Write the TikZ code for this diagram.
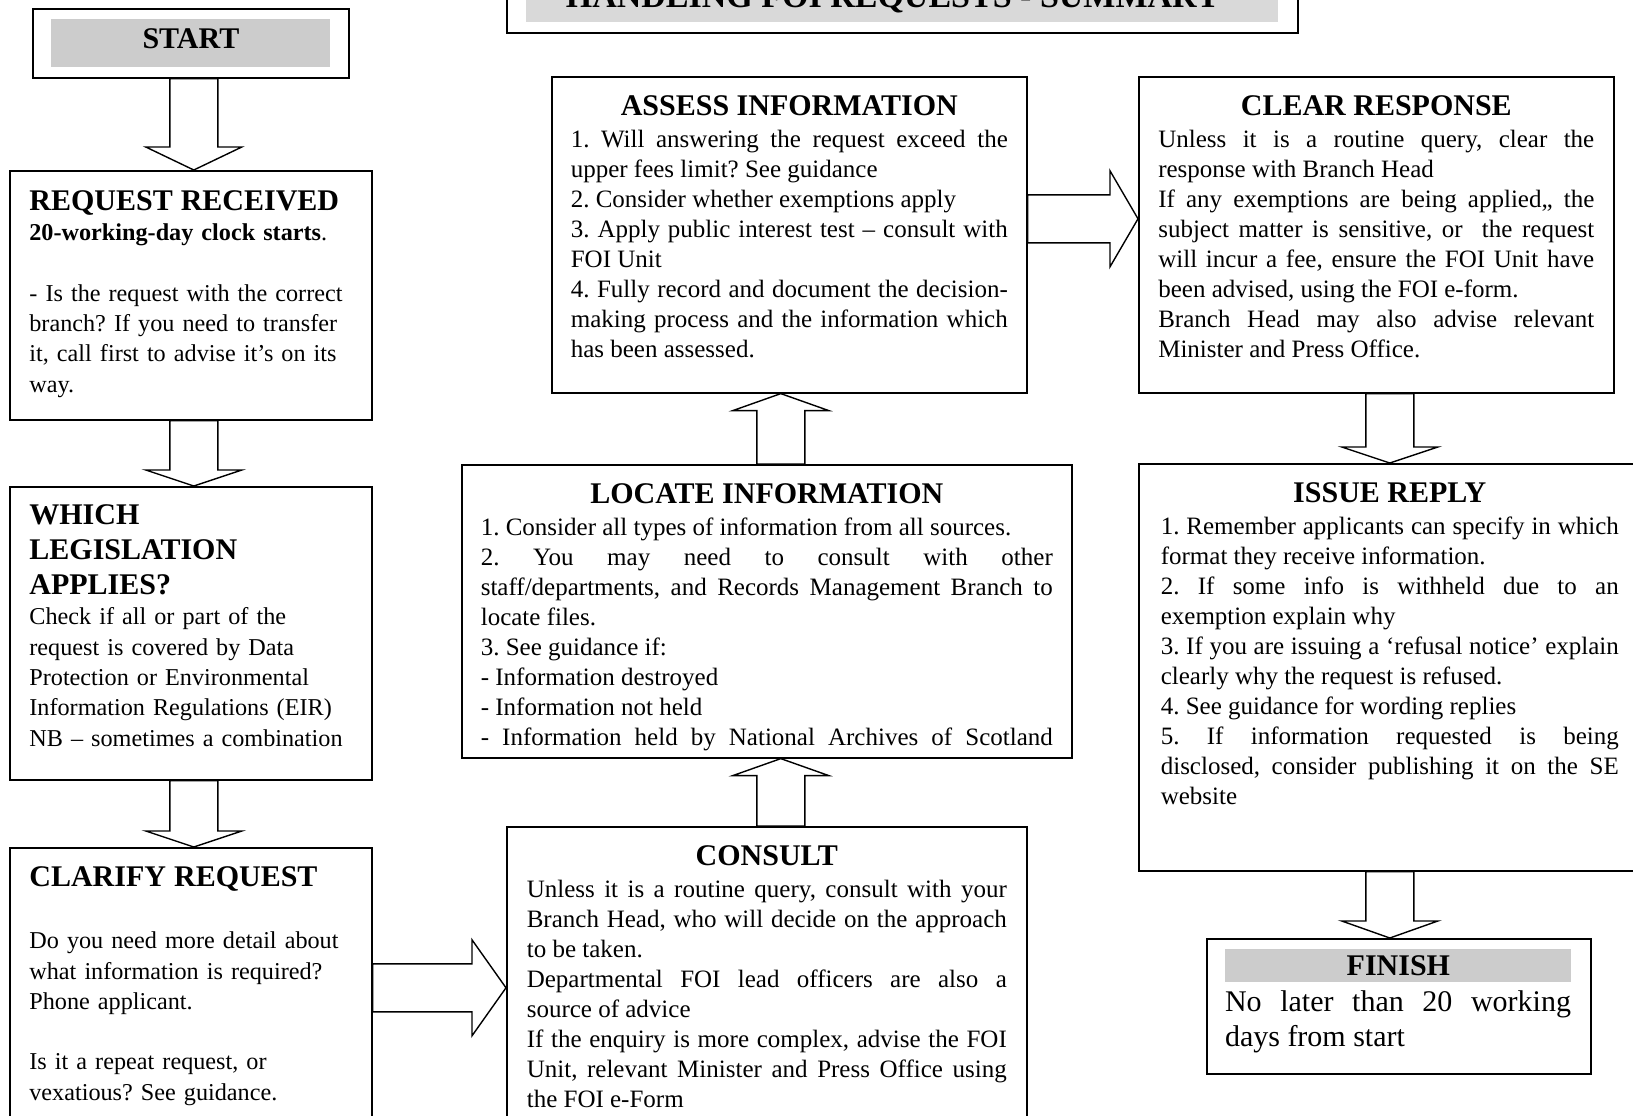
\documentclass[tikz,border=0pt]{standalone}
\usepackage{fontspec}
\setmainfont{Liberation Serif}
\usetikzlibrary{calc}

\setlength{\parindent}{0pt}
\frenchspacing
\tolerance=9999
\hyphenpenalty=10000
\emergencystretch=2em

\newcommand{\bodysize}{\fontsize{12.5}{15}\selectfont}
\newcommand{\leftsize}{\fontsize{12.1}{15.2}\selectfont}
\newcommand{\headsize}{\fontsize{15}{17.5}\selectfont\bfseries}
\newcommand{\titlesize}{\fontsize{17}{20}\selectfont\bfseries}
\newcommand{\finishsize}{\fontsize{15}{17.5}\selectfont}
\newcommand{\stagehead}[1]{{\centering\headsize #1\par}\vspace{1.2pt}}

\newcommand{\blockv}[3]{%
  \draw[blockline] let \p1=(#1), \p2=(#2) in
    ({\x2-12pt},{\y1}) -- ({\x2-12pt},{\y2+(#3)}) -- ({\x2-24pt},{\y2+(#3)}) -- (\p2)
    -- ({\x2+24pt},{\y2+(#3)}) -- ({\x2+12pt},{\y2+(#3)}) -- ({\x2+12pt},{\y1}) -- cycle;
}
\newcommand{\blockh}[3]{%
  \draw[blockline] let \p1=(#1), \p2=(#2) in
    ({\x1},{\y2+12pt}) -- ({\x2-(#3)},{\y2+12pt}) -- ({\x2-(#3)},{\y2+24pt}) -- (\p2)
    -- ({\x2-(#3)},{\y2-24pt}) -- ({\x2-(#3)},{\y2-12pt}) -- ({\x1},{\y2-12pt}) -- cycle;
}

\tikzset{
  stagebox/.style={draw, line width=0.8pt, anchor=north west, inner sep=0pt},
  greybar/.style={fill=black!20, anchor=north west, inner sep=0pt},
  stagetext/.style={anchor=north, inner sep=0pt, align=justify, font=\bodysize},
  lefttext/.style={anchor=north west, inner sep=0pt, align=left, font=\leftsize, text width=165pt},
  blockline/.style={line width=0.7pt, line join=miter},
}

\begin{document}
\begin{tikzpicture}[x=0.5pt, y=-0.5pt]
    \useasboundingbox (0, 0) rectangle (1633, 1115);

    \node (titlebox) at (506, -68) [stagebox, minimum width=395.5pt, minimum height=50pt] {};
    \node (titlebar) at (526, -68) [greybar, fill=black!15, minimum width=376pt, minimum height=45pt] {};
    \node (titletext) at (893, 7) [anchor=base, font=\titlesize] {HANDLING FOI REQUESTS - SUMMARY};

    \node (start) at (32, 8) [stagebox, minimum width=158pt, minimum height=34.5pt] {};
    \node (startbar) at (51, 19) [greybar, minimum width=139.5pt, minimum height=24pt] {};
    \node (starttext) at ([yshift=2.5pt]startbar.center) [font=\headsize] {START};

    \node (received) at (9, 170) [stagebox, minimum width=181pt, minimum height=124.5pt] {};
    \node (receivedtext) at ([xshift=10pt, yshift=-10pt]received.north west) [lefttext] {%
        {\headsize REQUEST RECEIVED\par}
        {\bfseries 20-working-day clock starts}.\\[15pt]
        - Is the request with the correct\\ branch? If you need to transfer\\
        it, call first to advise it’s on its\\ way.};

    \node (which) at (9, 486) [stagebox, minimum width=181pt, minimum height=146.5pt] {};
    \node (whichtext) at ([xshift=10pt, yshift=-9pt]which.north west) [lefttext] {%
        {\headsize WHICH\\ LEGISLATION\\ APPLIES?\par}
        Check if all or part of the\\ request is covered by Data\\
        Protection or Environmental\\ Information Regulations (EIR)\\
        NB – sometimes a combination};

    \node (clarify) at (9, 847) [stagebox, minimum width=181pt, minimum height=146.5pt] {};
    \node (clarifytext) at ([xshift=10pt, yshift=-9.5pt]clarify.north west) [lefttext] {%
        {\headsize CLARIFY REQUEST\par}\vspace{16pt}
        Do you need more detail about\\ what information is required?\\
        Phone applicant.\\[15pt]
        Is it a repeat request, or\\ vexatious? See guidance.};

    \node (assess) at (551, 76) [stagebox, minimum width=237.5pt, minimum height=158pt] {};
    \node (assesstext) at ([yshift=-9.5pt]assess.north) [stagetext, text width=218.5pt] {%
        \stagehead{ASSESS INFORMATION}
        1. Will answering the request exceed the\linebreak upper fees limit? See guidance\par
        2. Consider whether exemptions apply\par
        3. Apply public interest test – consult with\linebreak FOI Unit\par
        4. Fully record and document the decision-\linebreak making process and the information which\linebreak
        has been assessed.};

    \node (clear) at (1138, 76) [stagebox, minimum width=237.5pt, minimum height=158pt] {};
    \node (cleartext) at ([yshift=-9.5pt]clear.north) [stagetext, text width=218pt] {%
        \stagehead{CLEAR RESPONSE}
        Unless it is a routine query, clear the\linebreak response with Branch Head\par
        If any exemptions are being applied,, the\linebreak subject matter is sensitive, or~ the request\linebreak
        will incur a fee, ensure the FOI Unit have\linebreak been advised, using the FOI e-form.\par
        Branch Head may also advise relevant\linebreak Minister and Press Office.};

    \node (locate) at (461, 464) [stagebox, minimum width=305pt, minimum height=146.5pt] {};
    \node (locatetext) at ([yshift=-9.5pt]locate.north) [stagetext, text width=286pt] {%
        \stagehead{LOCATE INFORMATION}
        1. Consider all types of information from all sources.\par
        2. You may need to consult with other\linebreak staff/departments, and Records Management Branch to\linebreak
        locate files.\par
        3. See guidance if:\par
        - Information destroyed\par
        - Information not held\par
        {\parfillskip=0pt - Information held by National Archives of Scotland\par}};

    \node (consult) at (506, 826) [stagebox, minimum width=260pt, minimum height=157pt] {};
    \node (consulttext) at ([yshift=-9.5pt]consult.north) [stagetext, text width=240pt] {%
        \stagehead{CONSULT}
        Unless it is a routine query, consult with your\linebreak Branch Head, who will decide on the approach\linebreak
        to be taken.\par
        Departmental FOI lead officers are also a\linebreak source of advice\par
        If the enquiry is more complex, advise the FOI\linebreak Unit, relevant Minister and Press Office using\linebreak
        the FOI e-Form};

    \node (issue) at (1138, 463) [stagebox, minimum width=251pt, minimum height=203.5pt] {};
    \node (issuetext) at ([yshift=-9.5pt]issue.north) [stagetext, text width=229pt] {%
        \stagehead{ISSUE REPLY}
        1. Remember applicants can specify in which\linebreak format they receive information.\par
        2. If some info is withheld due to an\linebreak exemption explain why\par
        3. If you are issuing a ‘refusal notice’ explain\linebreak clearly why the request is refused.\par
        4. See guidance for wording replies\par
        5. If information requested is being\linebreak disclosed, consider publishing it on the SE\linebreak
        website};

    \node (finish) at (1206, 938) [stagebox, minimum width=192pt, minimum height=67.5pt] {};
    \node (finishbar) at (1225, 949) [greybar, minimum width=173pt, minimum height=16.5pt] {};
    \node (finishhead) at (finishbar.center) [font=\headsize] {FINISH};
    \node (finishtext) at (1398, 990) [stagetext, text width=173pt, font=\finishsize] {%
        No later than 20 working\linebreak days from start};

    \blockv{start.south}{[xshift=1.5pt]received.north}{11.5pt}
    \blockv{received.south}{[xshift=1.5pt]which.north}{8pt}
    \blockv{which.south}{[xshift=1.5pt]clarify.north}{8pt}
    \blockh{clarify.east}{[yshift=-2pt]consult.west}{17pt}
    \blockv{consult.north}{[xshift=7pt]locate.south}{-8.5pt}
    \blockv{locate.north}{[xshift=-4.25pt]assess.south}{-8.5pt}
    \blockh{assess.east}{[yshift=8pt]clear.west}{14pt}
    \blockv{clear.south}{issue.north}{8pt}
    \blockv{issue.south}{[xshift=-4.5pt]finish.north}{8.5pt}
\end{tikzpicture}
\end{document}
